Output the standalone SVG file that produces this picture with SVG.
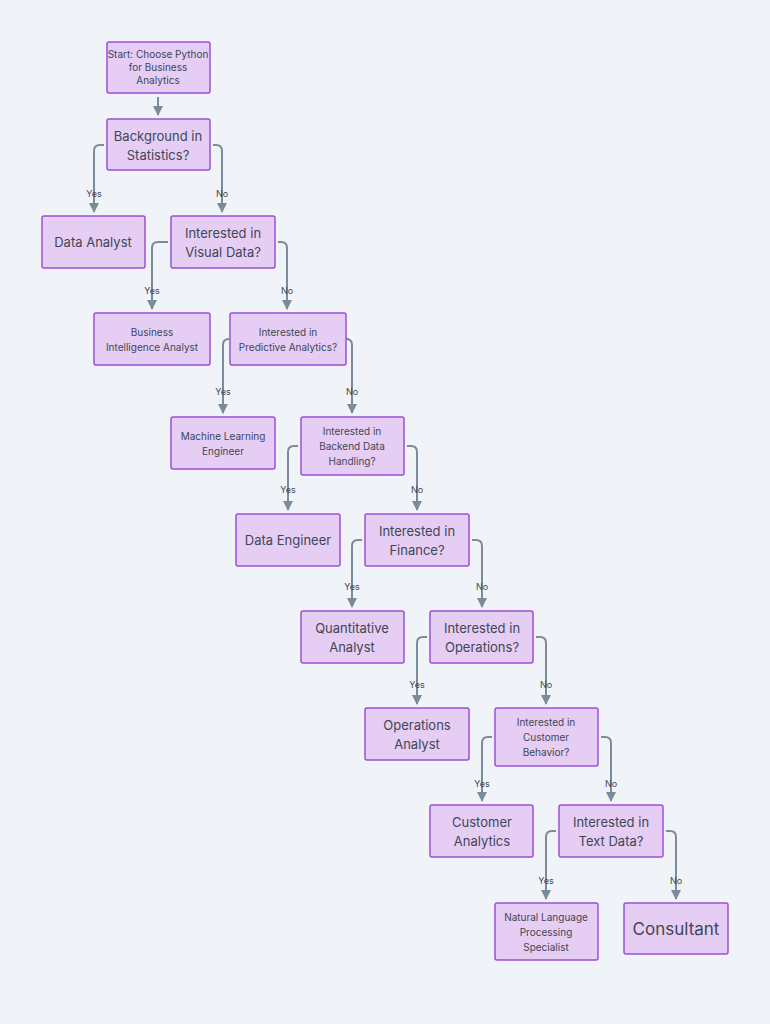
<svg xmlns="http://www.w3.org/2000/svg" width="770" height="1024" viewBox="0 0 770 1024">
<defs>
<marker id="a" viewBox="0 0 10 10" refX="9" refY="5" markerWidth="5" markerHeight="5" orient="auto"><path d="M0,0 L10,5 L0,10 z" fill="#7c8b99"/></marker>
<style>
.n rect{fill:#e5cdf4;stroke:#9b50d6;stroke-width:1.5}
text{font-family:Inter,"Noto Sans",sans-serif;fill:#3f4756;text-anchor:middle}
.b{font-size:13px}.s{font-size:10px}.l{font-size:9px}
.c path{fill:none;stroke:#7c8b99;stroke-width:2;marker-end:url(#a)}
</style>
</defs>
<rect width="770" height="1024" fill="#f0f4f8"/>
<g class="c">
<path d="M158,97 V115"/>
<path d="M104,145 H100 Q94,145 94,151 V212"/>
<path d="M213,145 H216 Q222,145 222,151 V212"/>
<path d="M168,242 H158 Q152,242 152,248 V309"/>
<path d="M278,242 H281 Q287,242 287,248 V309"/>
<path d="M227,339 H229 Q223,339 223,345 V413"/>
<path d="M349,339 H346 Q352,339 352,345 V413"/>
<path d="M298,446 H294 Q288,446 288,452 V510"/>
<path d="M407,446 H411 Q417,446 417,452 V510"/>
<path d="M362,540 H358 Q352,540 352,546 V607"/>
<path d="M472,540 H476 Q482,540 482,546 V607"/>
<path d="M427,637 H423 Q417,637 417,643 V704"/>
<path d="M536,637 H540 Q546,637 546,643 V704"/>
<path d="M492,737 H488 Q482,737 482,743 V801"/>
<path d="M601,737 H605 Q611,737 611,743 V801"/>
<path d="M556,831 H552 Q546,831 546,837 V899"/>
<path d="M666,831 H670 Q676,831 676,837 V899"/>
</g>
<g class="l">
<text x="94" y="197" class="l">Yes</text><text x="222" y="197" class="l">No</text>
<text x="152" y="294" class="l">Yes</text><text x="287" y="294" class="l">No</text>
<text x="223" y="395" class="l">Yes</text><text x="352" y="395" class="l">No</text>
<text x="288" y="493" class="l">Yes</text><text x="417" y="493" class="l">No</text>
<text x="352" y="590" class="l">Yes</text><text x="482" y="590" class="l">No</text>
<text x="417" y="688" class="l">Yes</text><text x="546" y="688" class="l">No</text>
<text x="482" y="787" class="l">Yes</text><text x="611" y="787" class="l">No</text>
<text x="546" y="884" class="l">Yes</text><text x="676" y="884" class="l">No</text>
</g>
<g id="start" class="n"><rect x="107" y="42" width="103" height="51" rx="2"/><text class="s" x="158" y="58">Start: Choose Python</text><text class="s" x="158" y="71">for Business</text><text class="s" x="158" y="84">Analytics</text></g>
<g id="bg" class="n"><rect x="107" y="119" width="103" height="51" rx="2"/><text class="b" x="158" y="141">Background in</text><text class="b" x="158" y="160">Statistics?</text></g>
<g id="da" class="n"><rect x="42" y="216" width="103" height="52" rx="2"/><text class="b" x="93" y="247">Data Analyst</text></g>
<g id="vd" class="n"><rect x="171" y="216" width="104" height="52" rx="2"/><text class="b" x="223" y="238">Interested in</text><text class="b" x="223" y="257">Visual Data?</text></g>
<g id="bi" class="n"><rect x="94" y="313" width="116" height="52" rx="2"/><text class="s" x="152" y="336">Business</text><text class="s" x="152" y="351">Intelligence Analyst</text></g>
<g id="pa" class="n"><rect x="230" y="313" width="116" height="52" rx="2"/><text class="s" x="288" y="336">Interested in</text><text class="s" x="288" y="351">Predictive Analytics?</text></g>
<g id="ml" class="n"><rect x="171" y="417" width="104" height="52" rx="2"/><text class="s" x="223" y="440">Machine Learning</text><text class="s" x="223" y="455">Engineer</text></g>
<g id="bd" class="n"><rect x="301" y="417" width="103" height="58" rx="2"/><text class="s" x="352" y="435">Interested in</text><text class="s" x="352" y="450">Backend Data</text><text class="s" x="352" y="465">Handling?</text></g>
<g id="de" class="n"><rect x="236" y="514" width="104" height="52" rx="2"/><text class="b" x="288" y="545">Data Engineer</text></g>
<g id="fi" class="n"><rect x="365" y="514" width="104" height="52" rx="2"/><text class="b" x="417" y="536">Interested in</text><text class="b" x="417" y="555">Finance?</text></g>
<g id="qa" class="n"><rect x="301" y="611" width="103" height="52" rx="2"/><text class="b" x="352" y="633">Quantitative</text><text class="b" x="352" y="652">Analyst</text></g>
<g id="op" class="n"><rect x="430" y="611" width="103" height="52" rx="2"/><text class="b" x="482" y="633">Interested in</text><text class="b" x="482" y="652">Operations?</text></g>
<g id="oa" class="n"><rect x="365" y="708" width="104" height="52" rx="2"/><text class="b" x="417" y="730">Operations</text><text class="b" x="417" y="749">Analyst</text></g>
<g id="cb" class="n"><rect x="495" y="708" width="103" height="58" rx="2"/><text class="s" x="546" y="726">Interested in</text><text class="s" x="546" y="741">Customer</text><text class="s" x="546" y="756">Behavior?</text></g>
<g id="ca" class="n"><rect x="430" y="805" width="103" height="52" rx="2"/><text class="b" x="482" y="827">Customer</text><text class="b" x="482" y="846">Analytics</text></g>
<g id="td" class="n"><rect x="559" y="805" width="104" height="52" rx="2"/><text class="b" x="611" y="827">Interested in</text><text class="b" x="611" y="846">Text Data?</text></g>
<g id="nlp" class="n"><rect x="495" y="903" width="103" height="57" rx="2"/><text class="s" x="546" y="921">Natural Language</text><text class="s" x="546" y="936">Processing</text><text class="s" x="546" y="951">Specialist</text></g>
<g id="co" class="n"><rect x="624" y="903" width="104" height="51" rx="2"/><text x="676" y="935" style="font-size:17px">Consultant</text></g>
</svg>
